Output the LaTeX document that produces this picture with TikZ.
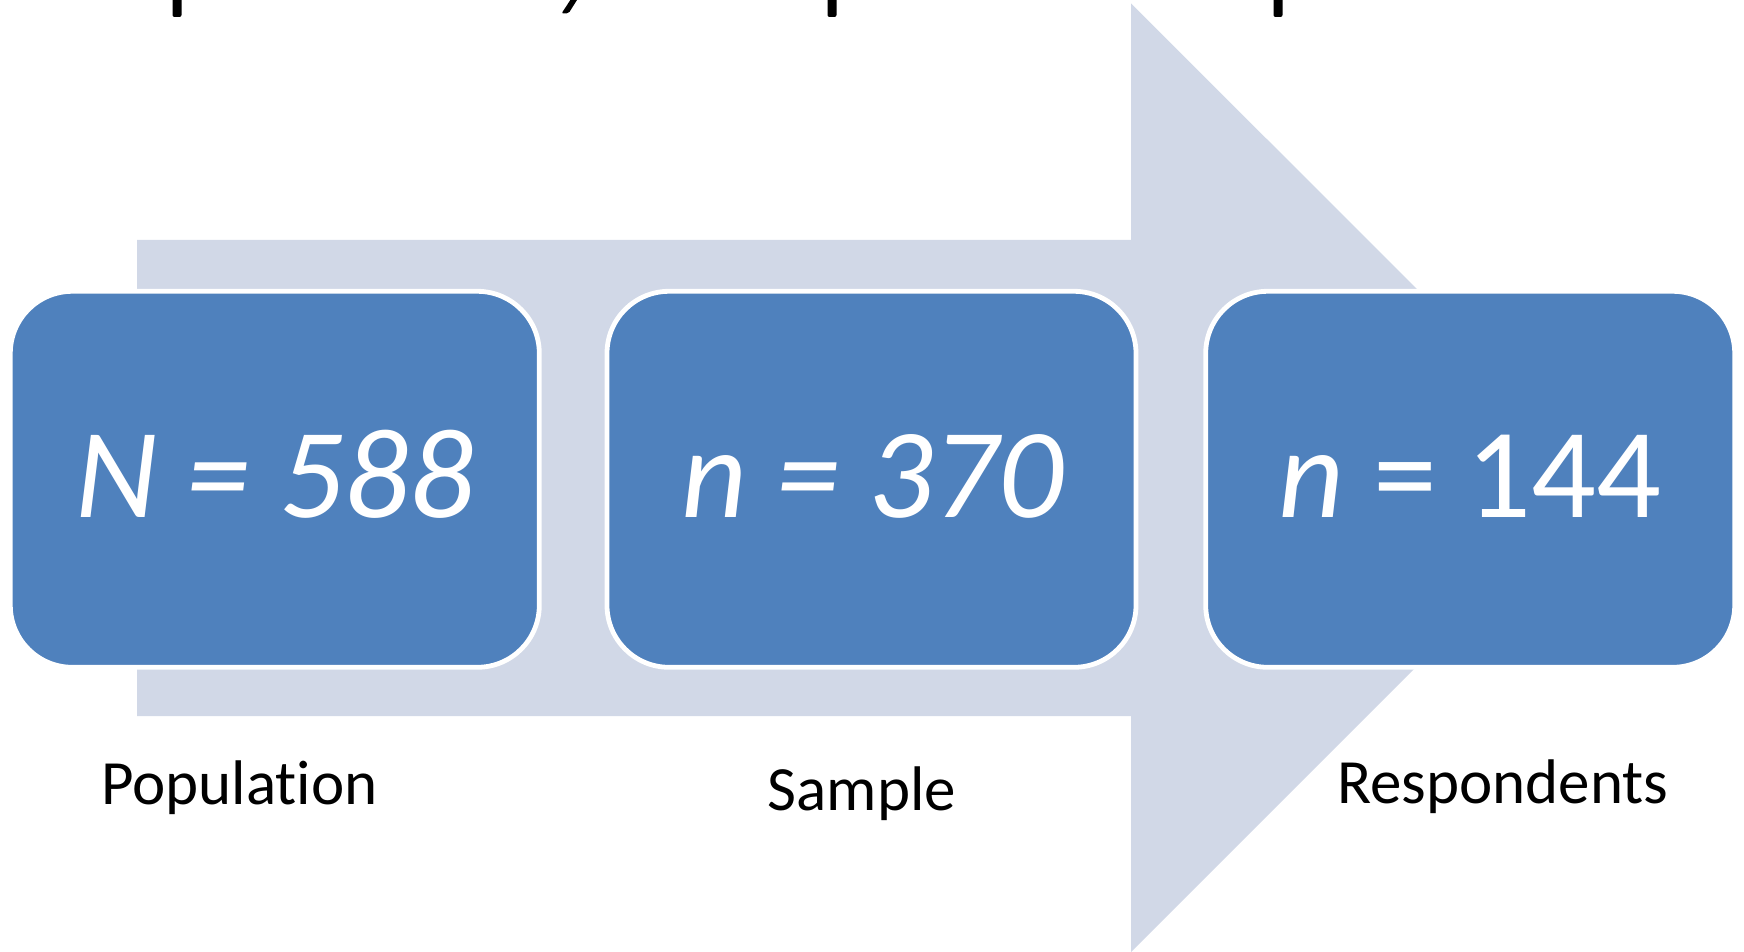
\documentclass[tikz,border=0pt]{standalone}
\usepackage{fontspec}
\setmainfont{Carlito}[Ligatures={TeX,NoCommon}]
\definecolor{boxblue}{HTML}{4F81BD}
\definecolor{arrowgrey}{HTML}{D1D8E7}

\begin{document}
\begin{tikzpicture}[x=0.5pt,y=-0.5pt,
  stage/.style={draw=white, line width=2.4pt, fill=boxblue,
    rounded corners=31pt, minimum width=264.5pt, minimum height=188pt,
    inner sep=0pt},
  value/.style={text=white, font=\fontsize{64}{70}\selectfont,
    anchor=base, inner sep=0pt},
  caption/.style={text=black, font=\fontsize{31.5}{36}\selectfont,
    anchor=base, inner sep=0pt},
  glyphcut/.style={fill=black, rounded corners=1pt}
]
\useasboundingbox (0,0) rectangle (1744,952);

% remnants of the heading above the figure
\fill[glyphcut] (172.5,-4) -- (172.5,17) -- (181.5,17) -- (181.5,-4) -- cycle;
\fill[glyphcut] (573,-4) -- (579.5,-4) -- (568.5,13.5) -- (561.5,13.5) -- cycle;
\fill[glyphcut] (827.5,-4) -- (827.5,17) -- (836.5,17) -- (836.5,-4) -- cycle;
\fill[glyphcut] (1273.5,-4) -- (1273.5,17) -- (1282.5,17) -- (1282.5,-4) -- cycle;

% background block arrow
\fill[arrowgrey] (137,240) -- (1131,240) -- (1131,3.3) -- (1605.5,477.7)
  -- (1131,952.1) -- (1131,716) -- (137,716) -- cycle;

% stage boxes
\node[stage] (pop) at (274.8,479.3) {};
\node[stage] (samp) at (871.5,479.3) {};
\node[stage] (resp) at (1470.2,479.3) {};

% values inside the boxes
\node[value] (popv) at (274.8,517) {\itshape N = 588};
\node[value] (sampv) at (872.5,517) {\itshape n = 370};
\node[value] (respv) at (1470,517) {{\itshape n} = 144};

% captions below
\node[caption] (popl) at (239.5,804) {Population};
\node[caption] (sampl) at (862,810) {Sample};
\node[caption] (respl) at (1503,803) {Respondents};
\end{tikzpicture}
\end{document}
